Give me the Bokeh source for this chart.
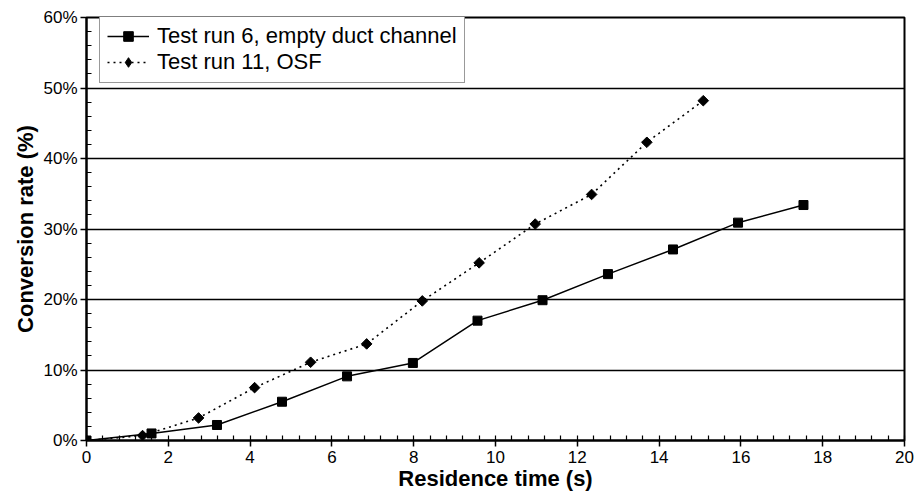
from bokeh.plotting import figure
from bokeh.models import Range1d, Legend, LegendItem, PrintfTickFormatter, FixedTicker
from bokeh.embed import file_html
from bokeh.resources import INLINE
import numpy as np

# Residence time (s) and conversion rate (%) for the two test runs
run6_time = [0, 1.59, 3.19, 4.78, 6.37, 7.98, 9.56, 11.15, 12.75, 14.34, 15.93, 17.53]
run6_conv = [0, 1.0, 2.2, 5.5, 9.1, 11.0, 17.0, 19.9, 23.6, 27.1, 30.9, 33.4]
run11_time = [0, 1.37, 2.74, 4.11, 5.48, 6.85, 8.21, 9.6, 10.97, 12.35, 13.7, 15.08]
run11_conv = [0, 0.7, 3.2, 7.5, 11.1, 13.7, 19.8, 25.2, 30.7, 34.9, 42.3, 48.2]

run6_label = "Test run 6, empty duct channel"
run11_label = "Test run 11, OSF"

x_ticks = list(range(0, 21, 2))
y_ticks = list(range(0, 61, 10))

FONT = "Liberation Sans"

p = figure(width=914, height=494, output_backend="svg", toolbar_location=None,
           x_range=Range1d(0, 20), y_range=Range1d(0, 60),
           min_border_left=86, min_border_right=10, min_border_top=17, min_border_bottom=54)

p.background_fill_color = "white"
p.border_fill_color = "white"
p.outline_line_color = "black"
p.outline_line_width = 2

# axes
for ax in (p.xaxis[0], p.yaxis[0]):
    ax.axis_line_color = "black"
    ax.axis_line_width = 2
    ax.major_tick_line_color = "black"
    ax.major_tick_line_width = 1.5
    ax.minor_tick_line_color = "black"
    ax.minor_tick_line_width = 1.2
    ax.major_tick_in = 0
    ax.major_tick_out = 6
    ax.minor_tick_in = 5
    ax.minor_tick_out = 0
    ax.major_label_text_font = FONT
    ax.major_label_text_font_size = "17px"
    ax.major_label_text_color = "black"
    ax.axis_label_text_font = FONT
    ax.axis_label_text_font_size = "22px"
    ax.axis_label_text_font_style = "bold"
    ax.axis_label_text_color = "black"

p.xaxis.ticker = FixedTicker(ticks=x_ticks, minor_ticks=list(np.arange(0, 20.01, 0.4)))
p.yaxis.ticker = FixedTicker(ticks=y_ticks, minor_ticks=list(range(0, 61, 2)))
p.yaxis.formatter = PrintfTickFormatter(format="%d%%")
p.xaxis.axis_label = "Residence time (s)"
p.yaxis.axis_label = "Conversion rate (%)"
p.xaxis.major_label_standoff = 4
p.yaxis.major_label_standoff = 3
p.xaxis.axis_label_standoff = 0
p.yaxis.axis_label_standoff = 2

# grid: horizontal lines only
p.xgrid.grid_line_color = None
p.ygrid.grid_line_color = "black"
p.ygrid.grid_line_width = 1.5

# series
l6 = p.line(run6_time, run6_conv, line_color="black", line_width=1.5)
m6 = p.scatter(run6_time, run6_conv, marker="square", size=9,
               fill_color="black", line_color="black")
l11 = p.line(run11_time, run11_conv, line_color="black", line_width=1.6, line_dash="2 4")
m11 = p.scatter(run11_time, run11_conv, marker="square", angle=np.pi / 4, size=7.5,
                fill_color="black", line_color="black")
# diamond key for the legend (the rotated squares above carry the plotted points)
k11 = p.scatter(run11_time, run11_conv, marker="diamond", size=10,
                fill_color="black", line_color="black", visible=False)

legend = Legend(items=[LegendItem(label=run6_label, renderers=[l6, m6]),
                       LegendItem(label=run11_label, renderers=[l11, k11])],
                location=(13, 357))
legend.label_text_font = FONT
legend.label_text_font_size = "22px"
legend.label_text_color = "black"
legend.border_line_color = "#333333"
legend.border_line_width = 1
legend.background_fill_color = "white"
legend.background_fill_alpha = 1
legend.padding = 7
legend.spacing = 0
legend.margin = 0
legend.glyph_width = 42
legend.glyph_height = 24
legend.label_height = 24
legend.label_standoff = 8
p.add_layout(legend)

open("out.html", "w").write(file_html(p, INLINE))
